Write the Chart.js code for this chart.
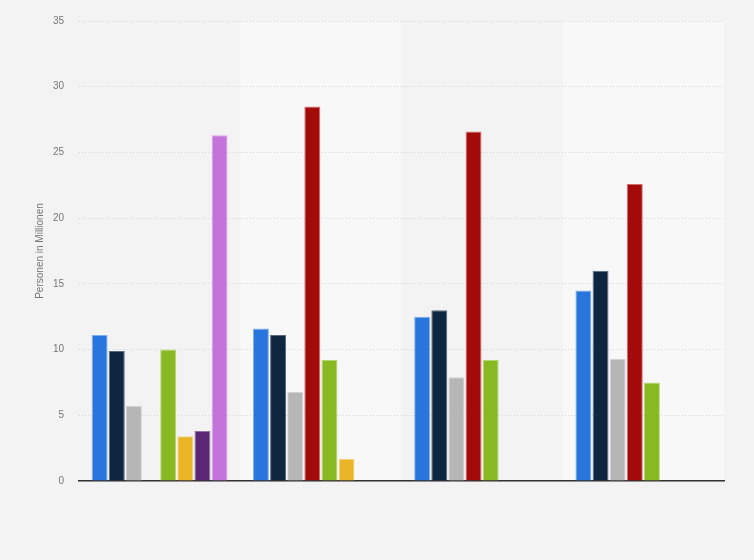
<!DOCTYPE html>
<html>
<head>
<meta charset="utf-8">
<script src="https://cdn.jsdelivr.net/npm/chart.js@4/dist/chart.umd.min.js"></script>
<style>
  html, body { margin: 0; padding: 0; background: #f3f3f3; }
  #wrap { width: 754px; height: 560px; }
</style>
</head>
<body>
<div id="wrap"><canvas id="chart" width="754" height="560"></canvas></div>
<script>
// categories (no labels visible in the picture)
var categories = ['1', '2', '3', '4'];
var yTicks = [0, 5, 10, 15, 20, 25, 30, 35];

// series values (Personen in Millionen)
var seriesBlue = [11.1, 11.6, 12.5, 14.5];
var seriesNavy = [9.9, 11.1, 13.0, 16.0];
var seriesGray = [5.7, 6.8, 7.9, 9.3];
var seriesRed = [null, 28.5, 26.6, 22.6];
var seriesGreen = [10.0, 9.2, 9.2, 7.5];
var seriesYellow = [3.4, 1.7, null, null];
var seriesPurple = [3.8, null, null, null];
var seriesLilac = [26.3, null, null, null];

var colors = ['#2876dd', '#0f2640', '#b6b6b6', '#a30a0a', '#88b923', '#e9b425', '#5b2673', '#c373d9'];
var borders = ['#7fb0ee', '#5a6b80', '#d4d4d4', '#d46a6a', '#b5d873', '#f3d57e', '#9470a6', '#dba6ea'];
var allSeries = [seriesBlue, seriesNavy, seriesGray, seriesRed, seriesGreen, seriesYellow, seriesPurple, seriesLilac];

var bands = {
  id: 'bands',
  beforeDraw: function(chart) {
    var ctx = chart.ctx, area = chart.chartArea, x = chart.scales.x;
    var w = (area.right - area.left) / categories.length;
    ctx.save();
    for (var i = 0; i < categories.length; i++) {
      ctx.fillStyle = (i % 2 === 1) ? '#f8f8f8' : '#f3f3f3';
      ctx.fillRect(x.getPixelForValue(i) - w / 2, area.top, w, area.bottom - area.top);
    }
    ctx.restore();
  }
};

var datasets = allSeries.map(function(s, i) {
  return {
    label: 'Reihe ' + (i + 1),
    data: s,
    backgroundColor: colors[i],
    borderColor: borders[i],
    borderWidth: 1,
    barPercentage: 0.93,
    categoryPercentage: 0.85
  };
});

new Chart(document.getElementById('chart').getContext('2d'), {
  type: 'bar',
  data: { labels: categories, datasets: datasets },
  plugins: [bands],
  options: {
    responsive: false,
    animation: false,
    layout: { padding: { top: 20, right: 30, left: 0, bottom: 0 } },
    plugins: { legend: { display: false }, tooltip: { enabled: false } },
    scales: {
      x: {
        grid: { display: false },
        border: { display: true, color: '#333333', width: 1.5 },
        ticks: { display: false },
        afterFit: function(scale) { scale.height = 79; }
      },
      y: {
        min: 0,
        max: 35,
        afterBuildTicks: function(scale) {
          scale.ticks = yTicks.map(function(v) { return { value: v }; });
        },
        grid: { color: '#d6d6d6', drawTicks: false },
        border: { display: false, dash: [1, 2] },
        ticks: {
          padding: 15,
          color: '#777777',
          font: { family: 'Liberation Sans, Arial, sans-serif', size: 10 }
        },
        title: {
          display: true,
          text: 'Personen in Millionen',
          color: '#777777',
          padding: { top: 34, bottom: 0 },
          font: { family: 'Liberation Sans, Arial, sans-serif', size: 10 }
        },
        afterFit: function(scale) { scale.width = 79; }
      }
    }
  }
});
</script>
</body>
</html>
